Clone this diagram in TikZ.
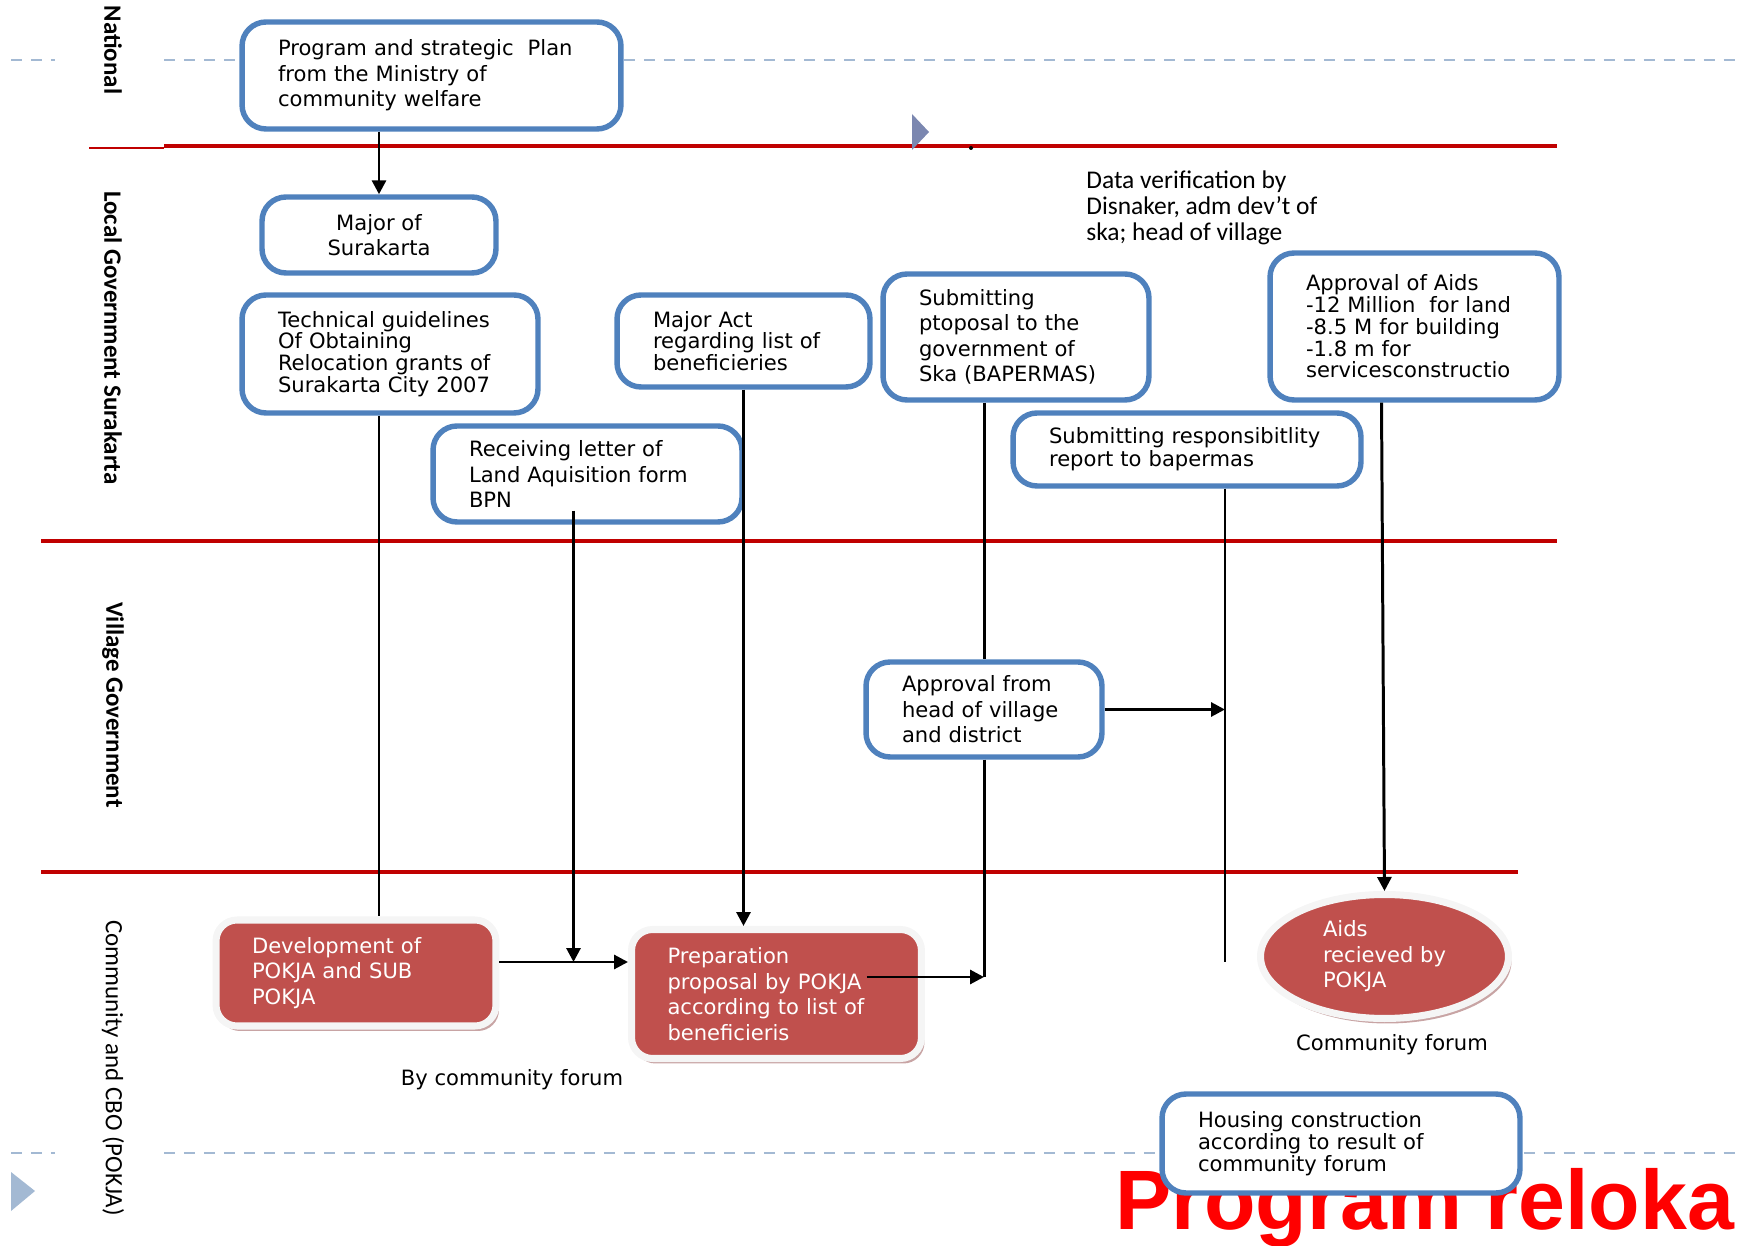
\documentclass[tikz,border=0pt]{standalone}
\usepackage{fontspec}
\setmainfont{DejaVu Sans}
\newfontfamily\lanefont{Carlito}
\newfontfamily\bigfont{Liberation Sans}
\usetikzlibrary{arrows.meta,shapes.geometric,shadows}

\definecolor{boxblue}{HTML}{4F81BD}
\definecolor{boxred}{HTML}{C0504D}
\definecolor{laneline}{HTML}{C00000}
\definecolor{dashblue}{HTML}{A3B9D3}
\definecolor{tipblue}{HTML}{7B87B0}
\definecolor{shadowred}{HTML}{C8A4A4}

\tikzset{
  pbox/.style={draw=boxblue, line width=3.1pt, fill=white, rounded corners=0.48cm,
    align=left, inner xsep=0.72cm, inner ysep=0pt, font=\fontsize{12}{14.5}\selectfont},
  tight/.style={font=\fontsize{12}{12.4}\selectfont},
  rbox/.style={fill=boxred, draw=gray!8, line width=4pt, rounded corners=0.42cm,
    text=white, align=left, inner xsep=0.72cm, inner ysep=0pt, font=\fontsize{12}{14.5}\selectfont,
    drop shadow={shadow xshift=0.06cm, shadow yshift=-0.1cm, fill=shadowred, opacity=1}},
  rell/.style={ellipse, fill=boxred, draw=gray!8, line width=4pt, inner sep=0pt,
    text=white, align=left, font=\fontsize{12}{14.5}\selectfont,
    drop shadow={shadow xshift=0.06cm, shadow yshift=-0.1cm, fill=shadowred, opacity=1}},
  lane/.style={draw=laneline, line width=2.6pt},
  sepline/.style={draw=dashblue, line width=1pt, dash pattern=on 0.22cm off 0.18cm},
  lanetext/.style={rotate=-90, font=\lanefont\bfseries\fontsize{14.2}{14}\selectfont},
  con/.style={line width=1.7pt},
  arr/.style={line width=1.7pt, -{Triangle[length=0.28cm,width=0.28cm]}},
}

\begin{document}
\begin{tikzpicture}[x=0.02cm,y=-0.02cm]
\useasboundingbox (0,0) rectangle (1739,1246);

\foreach \y in {60,1153}{
  \draw[sepline] (11,\y) -- (55,\y);
  \draw[sepline] (164,\y) -- (1739,\y);
}

\node[anchor=base west, inner sep=0pt, text=red, font=\bigfont\bfseries\fontsize{48}{48}\selectfont] (title) at (1115,1229) {Program reloka};

\draw[laneline, line width=1pt] (89,148) -- (164,148);
\draw[lane] (164,146) -- (1557,146);
\draw[lane] (41,541) -- (1557,541);
\draw[lane] (41,872) -- (1518,872);
\fill (971,148) circle (0.04cm);

\fill[tipblue] (912,114) -- (929,132) -- (912,150) -- cycle;
\fill[dashblue] (11,1172) -- (35,1191) -- (11,1211) -- cycle;

\node[lanetext] (national) at (113,50) {National};
\node[lanetext] (localgov) at (113,338) {Local Government Surakarta};
\node[lanetext] (village) at (113,705) {Village Government};
\node[lanetext, font=\lanefont\fontsize{14.2}{14}\selectfont] (community) at (113,1068) {Community and CBO (POKJA)};

\node[pbox, text width=6.14cm, minimum height=2.14cm] (prog) at (431.5,75.5)
  {Program and strategic\ \ Plan\\from the Ministry of\\community welfare};
\node[pbox, align=center, inner xsep=0pt, minimum width=4.68cm, minimum height=1.52cm] (major) at (379,235)
  {Major of\\Surakarta};
\node[pbox, tight, text width=4.48cm, minimum height=2.36cm] (tech) at (390,354)
  {Technical guidelines\\Of Obtaining\\Relocation grants of\\Surakarta City 2007};
\node[pbox, tight, text width=3.62cm, minimum height=1.84cm] (act) at (743.5,341)
  {Major Act\\regarding list of\\beneficieries};
\node[pbox, text width=4.74cm, minimum height=1.92cm] (recv) at (587.5,474)
  {Receiving letter of\\Land Aquisition form\\BPN};
\node[pbox, text width=3.88cm, minimum height=2.52cm] (subm) at (1016,337)
  {Submitting\\ptoposal to the\\government of\\Ska (BAPERMAS)};
\node[pbox, tight, text width=4.34cm, minimum height=2.94cm] (aids) at (1414.5,326.5)
  {Approval of Aids\\-12 Million\ \ for land\\-8.5 M for building\\-1.8 m for\\servicesconstructio};
\node[pbox, font=\fontsize{12}{13.2}\selectfont, text width=5.52cm, minimum height=1.46cm] (resp) at (1187,449.5)
  {Submitting responsibitlity\\report to bapermas};
\node[pbox, text width=3.28cm, minimum height=1.90cm] (head) at (984,709.5)
  {Approval from\\head of village\\and district};
\node[pbox, tight, text width=5.72cm, minimum height=1.98cm] (house) at (1341,1143.5)
  {Housing construction\\according to result of\\community forum};

\node[rbox, text width=4.16cm, minimum height=2.12cm] (dev) at (356,973)
  {Development of\\POKJA and SUB\\POKJA};
\node[rbox, text width=4.36cm, minimum height=2.58cm] (prep) at (776.5,994)
  {Preparation\\proposal by POKJA\\according to list of\\beneficieris};
\node[rell, minimum width=4.96cm, minimum height=2.48cm] (got) at (1384.5,956.5)
  {Aids\\recieved by\\POKJA};

\node[anchor=north west, inner sep=0pt, align=left, font=\lanefont\fontsize{14.5}{14.8}\selectfont] (verify) at (1086,170)
  {Data verification by\\Disnaker, adm dev’t of\\ska; head of village};
\node[font=\fontsize{12}{14}\selectfont] (byforum) at (512,1080) {By community forum};
\node[font=\fontsize{12}{14}\selectfont] (cforum) at (1392,1045) {Community forum};

\coordinate (d1) at ([yshift=0.22cm]dev.east);
\coordinate (r0) at ([xshift=-0.28cm,yshift=0.28cm]recv.south);
\coordinate (p1) at ([xshift=1.81cm,yshift=0.34cm]prep.center);
\coordinate (q0) at ([xshift=0.76cm]resp.south);

\draw[arr] (major.north |- prog.south) -- (major.north);
\draw[con] (major.south |- tech.south) -- (major.south |- dev.north);
\draw[arr] (d1) -- (d1 -| prep.west);
\draw[arr] (r0) -- (r0 |- d1);
\draw[arr] (act.south) -- (act.south |- prep.north);
\draw[con] (head.north |- subm.south) -- (head.north);
\draw[con] (head.south) -- (head.south |- p1);
\draw[arr] (p1) -- (head.south |- p1);
\draw[con] (q0) -- (q0 |- d1);
\draw[arr] (head.east) -- (head.east -| q0);
\draw[arr] ([xshift=-0.66cm]aids.south) -- (got.north);

\end{tikzpicture}
\end{document}
